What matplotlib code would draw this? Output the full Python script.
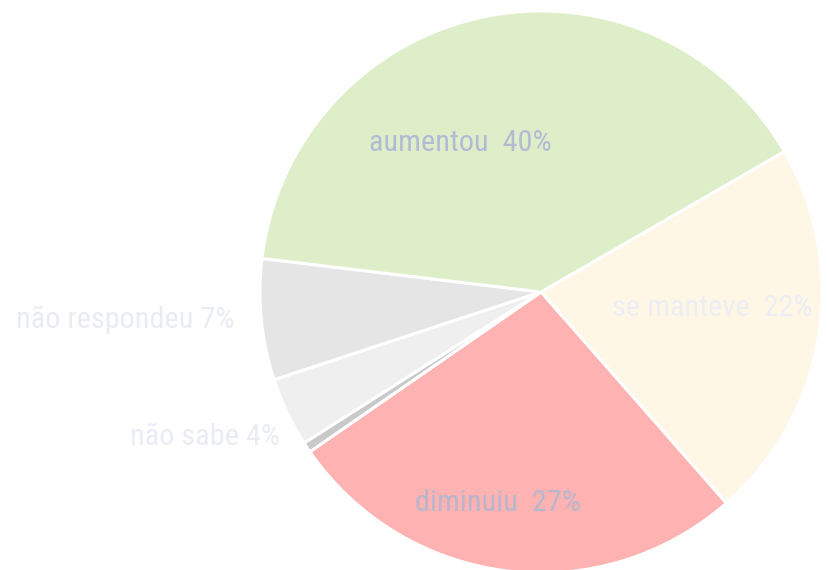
import matplotlib
matplotlib.use("Agg")
import matplotlib.pyplot as plt
from matplotlib import font_manager

categories = ["se manteve", "diminuiu", "outro", "não sabe", "não respondeu", "aumentou"]
values = [22, 27, 0.6, 4, 7, 40]
label_texts = ["se manteve  22%", "diminuiu  27%", None, "não sabe 4%", "não respondeu 7%", "aumentou  40%"]
colors = ["#fff7e6", "#ffb2b2", "#c9c9c9", "#efefef", "#e5e5e5", "#ddeec8"]
label_colors = ["#eceef4", "#b7b6cc", None, "#eaecf3", "#eaecf3", "#b3bbd4"]
label_pos = [(712, 262), (498, 67), None, (205, 133), (125, 250), (460, 427)]

names = {f.name for f in font_manager.fontManager.ttflist}
preferred = ["Liberation Sans Narrow", "Arial Narrow", "Roboto Condensed",
             "Archivo Narrow", "PT Sans Narrow"]
family = [n for n in preferred if n in names][:1] + ["Liberation Sans", "DejaVu Sans"]

W, H = 828, 570
fig = plt.figure(figsize=(W / 100, H / 100), dpi=100)
ax = fig.add_axes([0, 0, 1, 1])
ax.axis("off")

ax.pie(values, colors=colors, startangle=30, counterclock=False,
       center=(541, 278), radius=281,
       wedgeprops=dict(edgecolor="white", linewidth=2.2))
ax.set_xlim(0, W)
ax.set_ylim(0, H)
ax.set_aspect("equal")

for txt, col, pos in zip(label_texts, label_colors, label_pos):
    if txt is None:
        continue
    ax.text(pos[0], pos[1], txt, color=col, fontsize=21.8, family=family,
            ha="center", va="center")

fig.savefig("out.png", dpi=100)
